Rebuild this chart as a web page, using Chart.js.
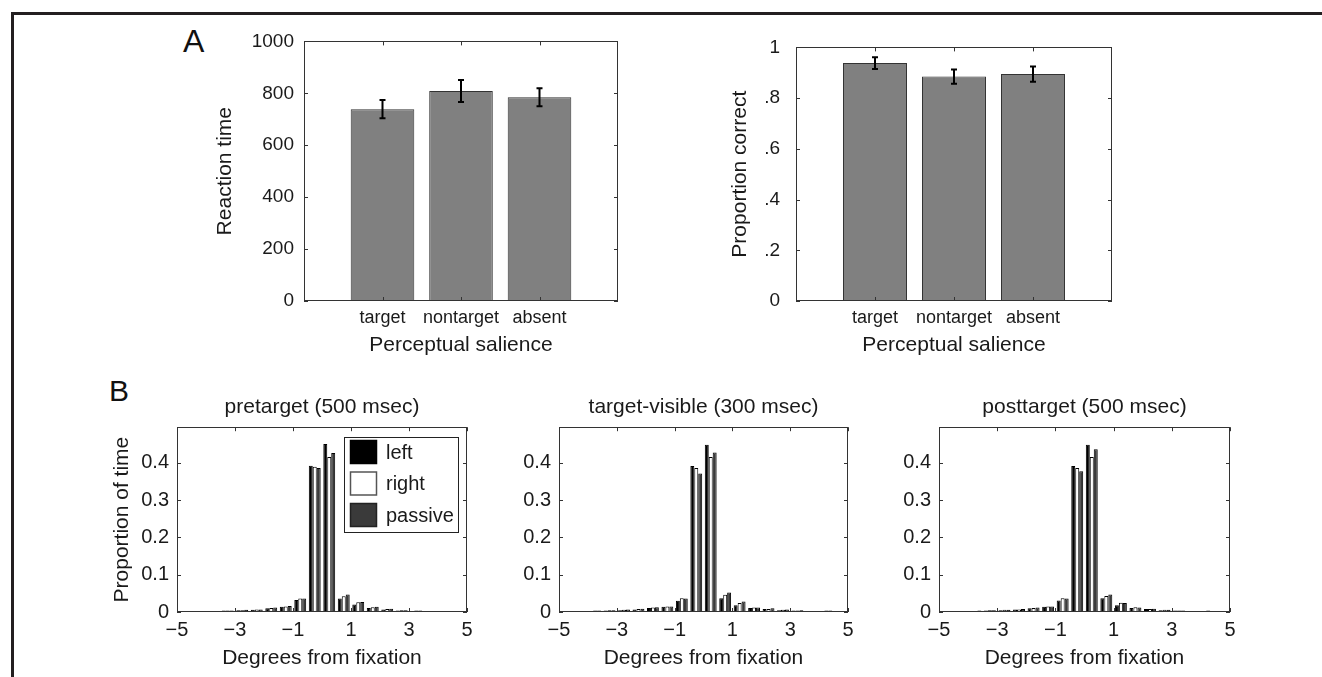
<!DOCTYPE html>
<html>
<head>
<meta charset="utf-8">
<script src="https://cdn.jsdelivr.net/npm/chart.js@4.4.1/dist/chart.umd.min.js"></script>
<style>
  body { margin: 0; background: #fff; width: 1322px; height: 677px; overflow: hidden; position: relative;
         font-family: "Liberation Sans", Arial, sans-serif; }
  .frame { position: absolute; left: 11px; top: 12px; width: 1311px; height: 665px; box-sizing: border-box;
           border-top: 3px solid #231f20; border-left: 3px solid #231f20; }
  canvas { position: absolute; }
  .panel { position: absolute; color: #111; }
</style>
</head>
<body>
<div class="frame"></div>
<div class="panel" style="left:183px;top:25px;font-size:32px;line-height:32px">A</div>
<div class="panel" style="left:109px;top:376px;font-size:30px;line-height:30px">B</div>
<canvas id="rt-chart" width="430" height="340" style="left:200px;top:20px"></canvas>
<canvas id="pc-chart" width="430" height="340" style="left:700px;top:20px"></canvas>
<canvas id="pre-chart" width="380" height="287" style="left:100px;top:390px"></canvas>
<canvas id="vis-chart" width="370" height="287" style="left:490px;top:390px"></canvas>
<canvas id="post-chart" width="380" height="287" style="left:870px;top:390px"></canvas>
<script>
// Panel A data
const salience = ["target", "nontarget", "absent"];
const reactionTime = [739, 809, 785];
const reactionTimeErr = [35, 42, 35];
const propCorrect = [0.938, 0.885, 0.895];
const propCorrectErr = [0.023, 0.028, 0.030];
const rtTicks = [0, 200, 400, 600, 800, 1000];
const pcTicks = [0, 0.2, 0.4, 0.6, 0.8, 1];
const pcTickLabels = ["0", ".2", ".4", ".6", ".8", "1"];

// Panel B data (bin centres in degrees)
const binCenters = [-4.75, -4.25, -3.75, -3.25, -2.75, -2.25, -1.75, -1.25, -0.75, -0.25,
                    0.25, 0.75, 1.25, 1.75, 2.25, 2.75, 3.25, 3.75, 4.25, 4.75];
const degTicks = [-5, -3, -1, 1, 3, 5];
const timeTicks = [0, 0.1, 0.2, 0.3, 0.4];

const preLeft    = [0.001, 0.002, 0.003, 0.004, 0.005, 0.006, 0.010, 0.014, 0.032, 0.392, 0.450, 0.036, 0.020, 0.011, 0.007, 0.004, 0.003, 0.002, 0.002, 0.001];
const preRight   = [0.001, 0.002, 0.003, 0.004, 0.005, 0.007, 0.011, 0.015, 0.036, 0.389, 0.415, 0.042, 0.026, 0.013, 0.008, 0.005, 0.004, 0.003, 0.002, 0.001];
const prePassive = [0.001, 0.002, 0.003, 0.004, 0.006, 0.007, 0.012, 0.016, 0.036, 0.386, 0.426, 0.047, 0.027, 0.014, 0.009, 0.005, 0.004, 0.003, 0.003, 0.001];

const visLeft    = [0.002, 0.003, 0.003, 0.004, 0.005, 0.007, 0.011, 0.014, 0.030, 0.391, 0.448, 0.037, 0.018, 0.011, 0.008, 0.005, 0.004, 0.003, 0.003, 0.001];
const visRight   = [0.003, 0.003, 0.004, 0.005, 0.006, 0.008, 0.012, 0.015, 0.037, 0.386, 0.415, 0.046, 0.024, 0.012, 0.008, 0.006, 0.004, 0.003, 0.004, 0.001];
const visPassive = [0.003, 0.003, 0.004, 0.005, 0.007, 0.009, 0.013, 0.015, 0.036, 0.371, 0.427, 0.052, 0.028, 0.012, 0.010, 0.007, 0.005, 0.003, 0.004, 0.001];

const postLeft    = [0.002, 0.002, 0.003, 0.004, 0.005, 0.007, 0.010, 0.014, 0.031, 0.391, 0.448, 0.037, 0.018, 0.011, 0.008, 0.005, 0.004, 0.003, 0.003, 0.001];
const postRight   = [0.002, 0.003, 0.003, 0.005, 0.006, 0.007, 0.011, 0.015, 0.037, 0.386, 0.415, 0.043, 0.025, 0.013, 0.008, 0.006, 0.004, 0.003, 0.004, 0.001];
const postPassive = [0.002, 0.003, 0.004, 0.005, 0.006, 0.008, 0.012, 0.015, 0.036, 0.377, 0.436, 0.047, 0.024, 0.012, 0.009, 0.006, 0.004, 0.003, 0.003, 0.001];

Chart.defaults.font.family = '"Liberation Sans", Arial, sans-serif';
Chart.defaults.color = "#1a1a1a";
Chart.defaults.animation = false;

const TEXT = "#1a1a1a";

// MATLAB-style box, inward ticks, error bars and legend
const matlabAxes = {
  id: "matlabAxes",
  afterDatasetsDraw(chart, args, opts) {
    const { ctx, chartArea: a, scales } = chart;
    ctx.save();

    // error bars
    if (opts.errors) {
      const meta = chart.getDatasetMeta(0);
      const vals = chart.data.datasets[0].data;
      ctx.strokeStyle = "#000";
      ctx.lineWidth = 2;
      ctx.beginPath();
      meta.data.forEach((bar, i) => {
        const v = vals[i].y, e = opts.errors[i];
        const y1 = scales.y.getPixelForValue(v + e);
        const y2 = scales.y.getPixelForValue(v - e);
        ctx.moveTo(bar.x, y1); ctx.lineTo(bar.x, y2);
        ctx.moveTo(bar.x - 3, y1); ctx.lineTo(bar.x + 3, y1);
        ctx.moveTo(bar.x - 3, y2); ctx.lineTo(bar.x + 3, y2);
      });
      ctx.stroke();
    }

    // box
    ctx.strokeStyle = "#333";
    ctx.lineWidth = 1;
    ctx.strokeRect(Math.round(a.left) + 0.5, Math.round(a.top) + 0.5,
                   Math.round(a.right - a.left) - 1, Math.round(a.bottom - a.top) - 1);

    // inward tick marks on all four sides
    const len = 4;
    ctx.beginPath();
    scales.x.ticks.forEach(t => {
      const px = Math.round(scales.x.getPixelForValue(t.value)) + 0.5;
      ctx.moveTo(px, a.bottom); ctx.lineTo(px, a.bottom - len);
      ctx.moveTo(px, a.top); ctx.lineTo(px, a.top + len);
    });
    scales.y.ticks.forEach(t => {
      const py = Math.round(scales.y.getPixelForValue(t.value)) + 0.5;
      ctx.moveTo(a.left, py); ctx.lineTo(a.left + len, py);
      ctx.moveTo(a.right, py); ctx.lineTo(a.right - len, py);
    });
    ctx.stroke();

    // legend box inside the plot
    if (opts.legend) {
      ctx.font = '20px "Liberation Sans", Arial, sans-serif';
      const sets = chart.data.datasets;
      const textW = Math.max(...sets.map(d => ctx.measureText(d.label).width));
      const w = Math.round(42 + textW + 4), h = 95;
      const left = Math.round(a.right - 9 - w), top = Math.round(a.top + 10);
      ctx.fillStyle = "#fff";
      ctx.fillRect(left, top, w, h);
      ctx.strokeStyle = "#222";
      ctx.strokeRect(left + 0.5, top + 0.5, w, h);
      sets.forEach((d, i) => {
        const cy = top + 15 + i * 31.5;
        ctx.fillStyle = d.backgroundColor;
        ctx.fillRect(left + 6, cy - 12, 27, 24);
        ctx.strokeStyle = d.legendEdge || "#000";
        ctx.lineWidth = 1.5;
        ctx.strokeRect(left + 6.5, cy - 11.5, 26, 23);
        ctx.fillStyle = TEXT;
        ctx.textBaseline = "middle";
        ctx.textAlign = "left";
        ctx.fillText(d.label, left + 42, cy + 1);
      });
    }
    ctx.restore();
  }
};

function barPanel(id, values, errors, yTicks, yLabels, yMax, yTitle, yWidth, titlePad, tickPad, rightPad) {
  new Chart(document.getElementById(id), {
    type: "bar",
    data: {
      datasets: [{
        data: values.map((v, i) => ({ x: i + 1, y: v })),
        backgroundColor: "#808080",
        borderColor: "#333",
        borderWidth: 1,
        borderSkipped: false,
        categoryPercentage: 0.81,
        barPercentage: 1
      }]
    },
    plugins: [matlabAxes],
    options: {
      responsive: false,
      events: [],
      layout: { padding: { top: 12, right: rightPad, bottom: 0, left: 0 } },
      plugins: {
        legend: { display: false },
        tooltip: { enabled: false },
        matlabAxes: { errors: errors }
      },
      scales: {
        x: {
          type: "linear", min: 0, max: 4, offset: false,
          grid: { display: false, drawTicks: false, offset: false },
          border: { display: false },
          afterBuildTicks: s => { s.ticks = salience.map((c, i) => ({ value: i + 1 })); },
          ticks: { padding: 6, font: { size: 18 }, color: TEXT, maxRotation: 0, autoSkip: false,
                   callback: v => salience[v - 1] },
          title: { display: true, text: "Perceptual salience", font: { size: 21 }, color: TEXT,
                   padding: { top: 0, bottom: 2.4 } },
          afterFit: s => { s.height = 59; }
        },
        y: {
          min: 0, max: yMax,
          grid: { display: false, drawTicks: false },
          border: { display: false },
          afterBuildTicks: s => { s.ticks = yTicks.map(v => ({ value: v })); },
          ticks: { padding: tickPad, font: { size: 19 }, color: TEXT,
                   callback: (v, i) => yLabels[i] },
          title: { display: true, text: yTitle, font: { size: 21 }, color: TEXT,
                   padding: { top: titlePad, bottom: 0 } },
          afterFit: s => { s.width = yWidth; }
        }
      }
    }
  });
}

barPanel("rt-chart", reactionTime, reactionTimeErr, rtTicks, rtTicks.map(String), 1000,
         "Reaction time", 104, 12.4, 10, 12);
barPanel("pc-chart", propCorrect, propCorrectErr, pcTicks, pcTickLabels, 1,
         "Proportion correct", 96, 27.4, 16, 18);

function histPanel(id, title, left, right, passive, yTitle, yWidth, rightPad, showLegend) {
  const pts = arr => binCenters.map((x, i) => ({ x: x, y: arr[i] }));
  const common = { borderColor: "#000", borderWidth: 1, categoryPercentage: 0.82, barPercentage: 1 };
  new Chart(document.getElementById(id), {
    type: "bar",
    data: {
      datasets: [
        Object.assign({ label: "left", data: pts(left), backgroundColor: "#000" }, common),
        Object.assign({ label: "right", data: pts(right), backgroundColor: "#fff", legendEdge: "#555" }, common),
        Object.assign({ label: "passive", data: pts(passive), backgroundColor: "#3a3a3a", legendEdge: "#222" }, common)
      ]
    },
    plugins: [matlabAxes],
    options: {
      responsive: false,
      events: [],
      layout: { padding: { top: 0, right: rightPad, bottom: 0, left: 0 } },
      plugins: {
        legend: { display: false },
        tooltip: { enabled: false },
        title: { display: true, text: title, fullSize: false, color: TEXT,
                 font: { size: 21, weight: "normal" }, padding: { top: 5, bottom: 7 } },
        matlabAxes: { legend: showLegend }
      },
      scales: {
        x: {
          type: "linear", min: -5, max: 5, offset: false,
          grid: { display: false, drawTicks: false, offset: false },
          border: { display: false },
          afterBuildTicks: s => { s.ticks = degTicks.map(v => ({ value: v })); },
          ticks: { padding: 6, font: { size: 20 }, color: TEXT, maxRotation: 0, autoSkip: false,
                   callback: v => (v < 0 ? "\u2212" + Math.abs(v) : String(v)) },
          title: { display: true, text: "Degrees from fixation", font: { size: 21 }, color: TEXT,
                   padding: { top: 0, bottom: 6.4 } },
          afterFit: s => { s.height = 65; }
        },
        y: {
          min: 0, max: 0.495,
          grid: { display: false, drawTicks: false },
          border: { display: false },
          afterBuildTicks: s => { s.ticks = timeTicks.map(v => ({ value: v })); },
          ticks: { padding: 8, font: { size: 20 }, color: TEXT,
                   callback: v => (v === 0 ? "0" : v.toFixed(1)) },
          title: { display: !!yTitle, text: yTitle || "", font: { size: 21 }, color: TEXT,
                   padding: { top: 9.4, bottom: 0 } },
          afterFit: s => { s.width = yWidth; }
        }
      }
    }
  });
}

histPanel("pre-chart", "pretarget (500 msec)", preLeft, preRight, prePassive, "Proportion of time", 77, 13, true);
histPanel("vis-chart", "target-visible (300 msec)", visLeft, visRight, visPassive, null, 69, 12, false);
histPanel("post-chart", "posttarget (500 msec)", postLeft, postRight, postPassive, null, 69, 20, false);
</script>
</body>
</html>
